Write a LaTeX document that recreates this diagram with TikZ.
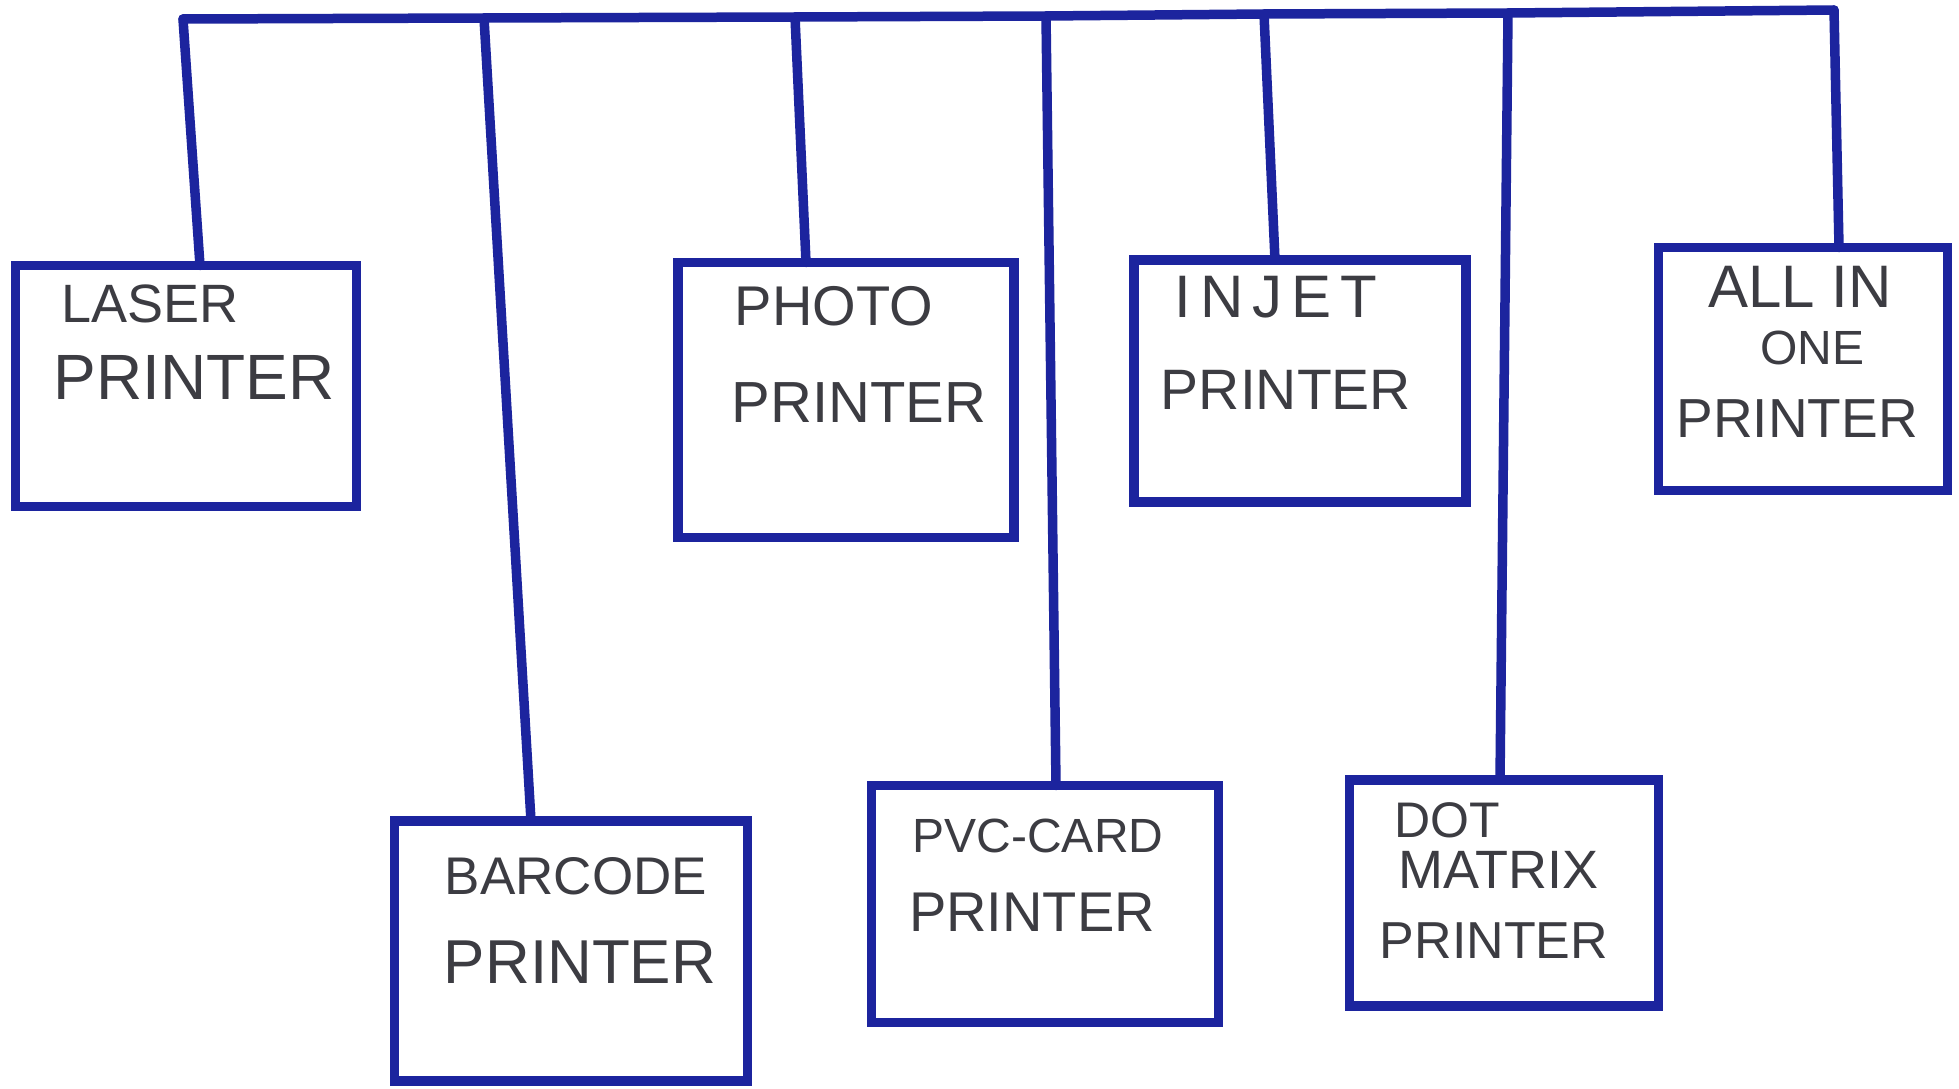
\documentclass[tikz,border=0pt]{standalone}
\usepackage{fontspec}
\setmainfont{Liberation Sans}
\definecolor{ink}{RGB}{28,36,158}
\definecolor{pencil}{RGB}{60,60,66}
\tikzset{
  box/.style={draw=ink, line width=9.5pt, rectangle, inner sep=0pt, outer sep=0pt, fill=white},
  wire/.style={draw=ink, line width=9.5pt, line cap=round, line join=round},
  lbl/.style={text=pencil, inner sep=0pt, font=\fontsize{#1}{#1}\selectfont},
  lbl/.default=58pt
}
\begin{document}
\begin{tikzpicture}[x=1pt,y=-1pt]
\useasboundingbox[fill=white] (0,0) rectangle (1959,1089);
% boxes
\node[box, minimum width=341pt, minimum height=241pt] (laser)   at (186,386) {};
\node[box, minimum width=353pt, minimum height=260pt] (barcode) at (571,951) {};
\node[box, minimum width=336pt, minimum height=275pt] (photo)   at (846,400) {};
\node[box, minimum width=347pt, minimum height=237pt] (pvc)     at (1045,904) {};
\node[box, minimum width=332pt, minimum height=242pt] (injet)   at (1300,381) {};
\node[box, minimum width=309pt, minimum height=226pt] (dot)     at (1504,893) {};
\node[box, minimum width=289pt, minimum height=243pt] (allone)  at (1803,369) {};
% bus points
\coordinate (d1) at (183,19);
\coordinate (d2) at (484,18);
\coordinate (d3) at (795,17);
\coordinate (d4) at (1046,16);
\coordinate (d5) at (1264,14);
\coordinate (d6) at (1508,13);
\coordinate (d7) at (1834,10);
\draw[wire] (d1) -- (d2) -- (d3) -- (d4) -- (d5) -- (d6) -- (d7);
\draw[wire] (d1) -- ([xshift=14pt]laser.north);
\draw[wire] (d2) -- ([xshift=-40pt]barcode.north);
\draw[wire] (d3) -- ([xshift=-40pt]photo.north);
\draw[wire] (d4) -- ([xshift=11pt]pvc.north);
\draw[wire] (d5) -- ([xshift=-25pt]injet.north);
\draw[wire] (d6) -- ([xshift=-4pt]dot.north);
\draw[wire] (d7) -- ([xshift=36pt]allone.north);
% labels
\node[lbl=54pt] (t1a) at (150,304) {LASER};
\node[lbl=64pt] (t1b) at (194,377) {PRINTER};
\node[lbl=56pt] (t3a) at (834,306) {PHOTO};
\node[lbl=58pt] (t3b) at (859,403) {PRINTER};
\node[lbl=60pt] (t5a) at (1276,297) {\addfontfeature{LetterSpace=15}INJET};
\node[lbl=57pt] (t5b) at (1286,390) {PRINTER};
\node[lbl=60pt] (t7a) at (1800,287) {ALL IN};
\node[lbl=48pt] (t7b) at (1812,348) {ONE};
\node[lbl=55pt] (t7c) at (1797,419) {PRINTER};
\node[lbl=53pt] (t2a) at (576,876) {BARCODE};
\node[lbl=62pt] (t2b) at (580,962) {PRINTER};
\node[lbl=48pt] (t4a) at (1038,836) {PVC-CARD};
\node[lbl=56pt] (t4b) at (1032,912) {PRINTER};
\node[lbl=50pt] (t6a) at (1447,820) {DOT};
\node[lbl=54pt] (t6b) at (1498,870) {MATRIX};
\node[lbl=52pt] (t6c) at (1494,941) {PRINTER};
\end{tikzpicture}
\end{document}
